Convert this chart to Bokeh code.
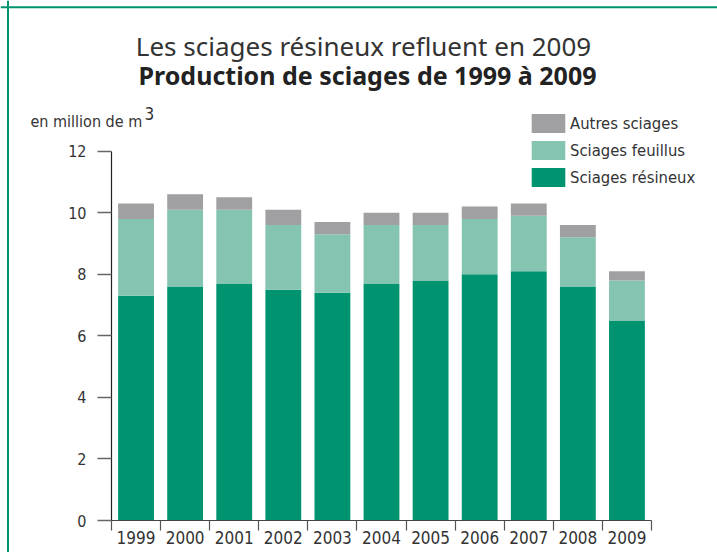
from bokeh.plotting import figure
from bokeh.models import (ColumnDataSource, Range1d, FixedTicker, Legend, LegendItem, Label, Span)
from bokeh.embed import file_html
from bokeh.resources import INLINE

years = ["1999", "2000", "2001", "2002", "2003", "2004", "2005", "2006", "2007", "2008", "2009"]
resineux = [7.3, 7.6, 7.7, 7.5, 7.4, 7.7, 7.8, 8.0, 8.1, 7.6, 6.5]
feuillus = [2.5, 2.5, 2.4, 2.1, 1.9, 1.9, 1.8, 1.8, 1.8, 1.6, 1.3]
autres = [0.5, 0.5, 0.4, 0.5, 0.4, 0.4, 0.4, 0.4, 0.4, 0.4, 0.3]
y_ticks = [0, 2, 4, 6, 8, 10, 12]
y_max = 12

title1 = "Les sciages résineux refluent en 2009"
title2 = "Production de sciages de 1999 à 2009"
unit = "en million de m"
unit_sup = "3"
series_names = ["Sciages résineux", "Sciages feuillus", "Autres sciages"]
colors = ["#009370", "#84C4B0", "#A0A0A2"]

NARROW = "DejaVu Sans Condensed"
TITLEF = "Noto Sans"
TXT = "#333333"
GREEN = "#00936F"

W, H = 717, 552
# plot-area geometry (pixels): axes drawn inside a full-canvas frame
AX_LEFT, AX_RIGHT, AX_TOP, AX_BOTTOM = 111, 651, 150.7, 520
n = len(years)
px_per_x = (AX_RIGHT - AX_LEFT) / n
px_per_y = (AX_BOTTOM - AX_TOP) / y_max

def dx(px):
    return (px - AX_LEFT) / px_per_x

def dy(py):
    return (AX_BOTTOM - py) / px_per_y

pos = [i + 0.5 for i in range(n)]
src = ColumnDataSource(dict(x=pos, resineux=resineux, feuillus=feuillus, autres=autres))

p = figure(width=W, height=H, min_border=0,
           x_range=Range1d(dx(0), dx(W)), y_range=Range1d(dy(H), dy(0)),
           output_backend="svg", toolbar_location=None, tools="")
p.outline_line_color = None
p.grid.grid_line_color = None
p.background_fill_color = "white"
p.border_fill_color = "white"

rs = p.vbar_stack(["resineux", "feuillus", "autres"], x="x", width=0.73, source=src,
                  color=colors, line_color=None)

# y axis
p.yaxis.fixed_location = 0
p.yaxis.bounds = (0, y_max)
p.yaxis.ticker = FixedTicker(ticks=y_ticks, minor_ticks=[])
p.yaxis.axis_line_color = "#222222"
p.yaxis.axis_line_width = 1.2
p.yaxis.major_tick_line_color = "#666666"
p.yaxis.major_tick_line_width = 1.5
p.yaxis.major_tick_out = 14
p.yaxis.major_tick_in = 0
p.yaxis.minor_tick_line_color = None
p.yaxis.major_label_standoff = 11
p.yaxis.major_label_text_font = NARROW
p.yaxis.major_label_text_font_size = "16px"
p.yaxis.major_label_text_color = TXT

# x axis: labels at centres, ticks at boundaries
p.xaxis.fixed_location = 0
p.xaxis.bounds = (0, n)
p.xaxis.ticker = FixedTicker(ticks=pos, minor_ticks=list(range(n + 1)))
p.xaxis.major_label_overrides = {pp: y for pp, y in zip(pos, years)}
p.xaxis.major_tick_out = 0
p.xaxis.major_tick_in = 0
p.xaxis.major_tick_line_color = None
p.xaxis.minor_tick_out = 10
p.xaxis.minor_tick_in = 0
p.xaxis.minor_tick_line_color = "#555555"
p.xaxis.minor_tick_line_width = 1.2
p.xaxis.axis_line_color = "#444444"
p.xaxis.axis_line_width = 1.2
p.xaxis.major_label_standoff = 0
p.xaxis.major_label_text_font = NARROW
p.xaxis.major_label_text_font_size = "17px"
p.xaxis.major_label_text_color = TXT

# legend (location = bottom-left corner, screen px from frame bottom-left)
items = [LegendItem(label=series_names[2], renderers=[rs[2]]),
         LegendItem(label=series_names[1], renderers=[rs[1]]),
         LegendItem(label=series_names[0], renderers=[rs[0]])]
leg = Legend(items=items, location=(527, H - 189), padding=0, margin=0,
             border_line_color=None, background_fill_alpha=0,
             glyph_width=42, glyph_height=24, label_standoff=1, spacing=3,
             label_text_font=NARROW, label_text_font_size="16.5px", label_text_color=TXT,
             label_height=24)
p.add_layout(leg)

# titles and unit
p.add_layout(Label(x=dx(363), y=dy(45.5), text=title1,
                   text_align="center", text_baseline="alphabetic",
                   text_font=TITLEF, text_font_size="26px", text_color=TXT))
p.add_layout(Label(x=dx(367), y=dy(74), text=title2,
                   text_align="center", text_baseline="alphabetic",
                   text_font=TITLEF, text_font_size="25px", text_font_style="bold", text_color="#222222"))
p.add_layout(Label(x=dx(30), y=dy(120.5), text=unit,
                   text_align="left", text_baseline="alphabetic",
                   text_font=NARROW, text_font_size="16px", text_color=TXT))
p.add_layout(Label(x=dx(144), y=dy(113), text=unit_sup,
                   text_align="left", text_baseline="alphabetic",
                   text_font=NARROW, text_font_size="17px", text_color=TXT))

# outer green frame (top and left edges)
p.add_layout(Span(location=dx(7.5), dimension="height", line_color=GREEN, line_width=2))
p.add_layout(Span(location=dy(6.8), dimension="width", line_color=GREEN, line_width=2))

open("out.html", "w").write(file_html(p, INLINE))
